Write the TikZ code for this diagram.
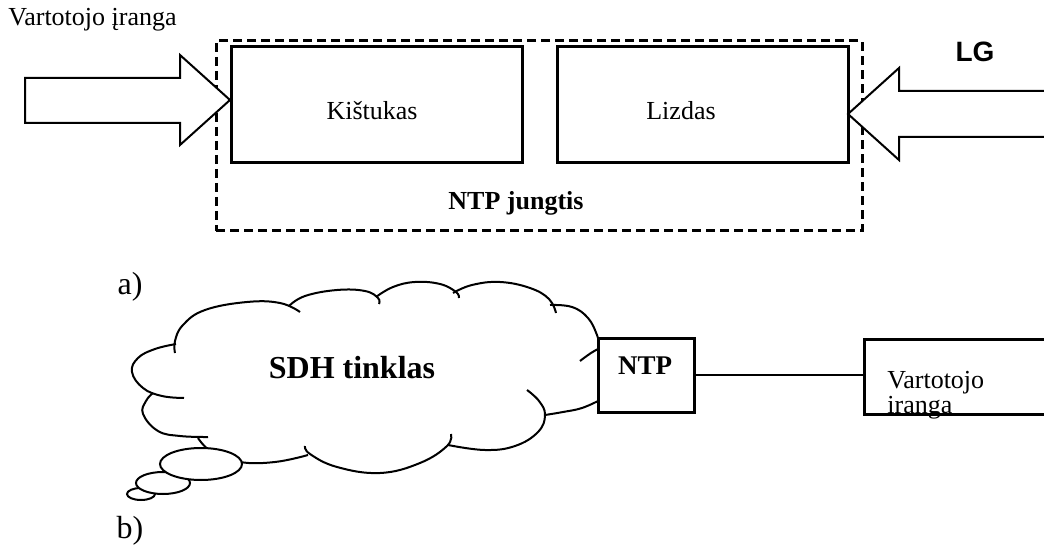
\documentclass[tikz,border=0pt]{standalone}
\usepackage{fontspec}
\setmainfont{Liberation Serif}
\newfontfamily\lgfont{Liberation Sans}

\begin{document}
\begin{tikzpicture}[
            x = 0.5pt, y = -0.5pt, % one unit per pixel, y downwards
            line join = miter,
            font = \fontsize{13}{15.6}\selectfont
        ]

        \tikzstyle{box}=[
            draw = black,
            line width = 1.5pt,
            fill = white,
            inner sep = 0pt
        ]
        \tikzstyle{blockarrow}=[draw = black, line width = 1pt, fill = white]
        \tikzstyle{cloudline}=[line width = 1pt]
        \tikzstyle{bubble}=[draw = black, line width = 1pt, fill = white]
        \tikzstyle{partlabel}=[font = \fontsize{16}{19}\selectfont]

        \useasboundingbox (0,0) rectangle (1044,545);

        % a) connector
        \node[box, dashed, dash pattern = on 4.5pt off 2.5pt, fill = none,
              minimum width = 323pt, minimum height = 95pt] (jungtis) at (539,136) {};
        \node[box, minimum width = 145.5pt, minimum height = 58pt] (kistukas) at (376.5,105) {};
        \node[box, minimum width = 145.5pt, minimum height = 58pt] (lizdas) at (702.5,105) {};

        \node (kistukastxt) at (372,111) {Kištukas};
        \node (lizdastxt) at (681,111) {Lizdas};
        \node[font = \fontsize{13}{15.6}\selectfont\bfseries] (jungtistxt) at (516,203) {NTP jungtis};

        \draw[blockarrow] (25,78) -- (180,78) -- (180,55) -- (230,100)
            -- (180,145) -- (180,123) -- (25,123) -- cycle;
        \draw[blockarrow] (1050,91) -- (899,91) -- (899,68) -- (848,114)
            -- (899,160) -- (899,137) -- (1050,137);

        \node[anchor = west, inner sep = 0pt] (vartotojas1) at (8,20) {Vartotojo įranga};
        \node[font = \lgfont\fontsize{14}{16}\selectfont\bfseries] (lg) at (975,52) {LG};
        \node[partlabel] (a) at (130,287) {a)};

        % b) network
        \draw[cloudline] plot[smooth, tension = 0.7] coordinates {(184,398) (162,396) (143,388) (132,372) (138,358) (155,349) (176,344)};
        \draw[cloudline] plot[smooth, tension = 0.7] coordinates {(175,353) (175,341) (183,325) (205,310) (247,302) (280,303) (300,312)};
        \draw[cloudline] plot[smooth, tension = 0.7] coordinates {(289,306) (305,296) (337,290) (365,291) (378,298) (379,304)};
        \draw[cloudline] plot[smooth, tension = 0.7] coordinates {(376,297) (393,287) (415,282) (440,284) (456,292) (459,298)};
        \draw[cloudline] plot[smooth, tension = 0.7] coordinates {(453,293) (472,285) (500,282) (530,288) (549,299) (556,313)};
        \draw[cloudline] plot[smooth, tension = 0.7] coordinates {(550,305) (572,307) (588,318) (597,335) (599,345)};
        \draw[cloudline] plot[smooth, tension = 0.7] coordinates {(580,361) (591,353) (600,348)};
        \draw[cloudline] plot[smooth, tension = 0.7] coordinates {(600,400) (582,408) (563,412) (545,415)};
        \draw[cloudline] plot[smooth, tension = 0.7] coordinates {(527,390) (539,401) (545,415) (538,432) (515,446) (485,450) (448,445)};
        \draw[cloudline] plot[smooth, tension = 0.7] coordinates {(451,434) (447,446) (420,463) (380,473) (337,467) (310,454) (305,446)};
        \draw[cloudline] plot[smooth, tension = 0.7] coordinates {(308,455) (275,462) (240,462) (212,452) (198,438)};
        \draw[cloudline] plot[smooth, tension = 0.7] coordinates {(208,437) (180,436) (158,431) (143,414) (146,401) (153,393)};

        \draw[bubble] (141,494) ellipse [x radius = 7pt, y radius = 3pt];
        \draw[bubble] (163,483) ellipse [x radius = 13.5pt, y radius = 5.5pt];
        \draw[bubble] (201,464) ellipse [x radius = 20.5pt, y radius = 8pt];

        \node[font = \fontsize{16}{19}\selectfont\bfseries] (sdh) at (352,368) {SDH tinklas};

        \node[box, minimum width = 48pt, minimum height = 37pt] (ntp) at (646,375) {};
        \node[font = \fontsize{13.5}{16}\selectfont\bfseries] (ntptxt) at (645,366) {NTP};
        \node[box, minimum width = 93pt, minimum height = 37.5pt] (vartotojas2) at (957,376.5) {};
        \node[anchor = north west, align = left, inner sep = 0pt,
              font = \fontsize{13}{10}\selectfont] (vartotojas2txt) at (887,371) {Vartotojo\\iranga};

        \draw[line width = 1.2pt] (ntp.east) -- (ntp.east -| vartotojas2.west);

        \node[partlabel] (b) at (130,531) {b)};
    \end{tikzpicture}
\end{document}
